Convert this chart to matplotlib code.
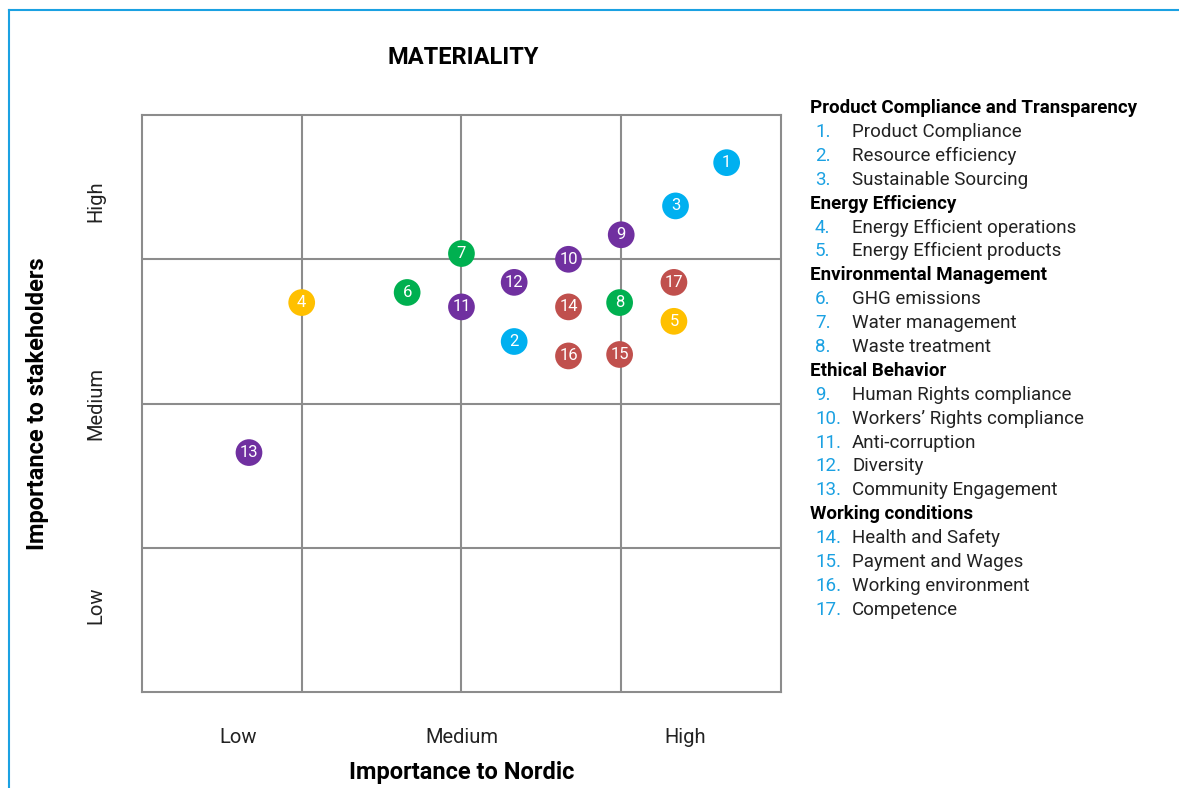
import matplotlib.pyplot as plt
from matplotlib.lines import Line2D

plt.rcParams['font.family'] = ['Roboto', 'DejaVu Sans']

# topic numbers, positions (importance to Nordic, importance to stakeholders), group
ids = list(range(1, 18))
nordic = [3.66, 2.33, 3.34, 1.00, 3.33, 1.66, 2.00, 2.99, 3.00,
          2.67, 2.00, 2.33, 0.67, 2.67, 2.99, 2.67, 3.33]
stakeholders = [3.67, 2.43, 3.37, 2.70, 2.57, 2.77, 3.04, 2.70, 3.17,
                3.00, 2.67, 2.84, 1.66, 2.67, 2.34, 2.33, 2.84]
groups = ["product", "product", "product", "energy", "energy",
          "env", "env", "env", "ethic", "ethic", "ethic", "ethic", "ethic",
          "work", "work", "work", "work"]

group_colors = {"product": "#00B0F0", "energy": "#FFC000", "env": "#00B050",
                "ethic": "#7030A0", "work": "#C0504D"}

level_labels = ["Low", "Medium", "High"]
level_pos = [0.6, 2.0, 3.4]

legend_sections = [
    ("Product Compliance and Transparency",
     ["Product Compliance", "Resource efficiency", "Sustainable Sourcing"]),
    ("Energy Efficiency",
     ["Energy Efficient operations", "Energy Efficient products"]),
    ("Environmental Management",
     ["GHG emissions", "Water management", "Waste treatment"]),
    ("Ethical Behavior",
     ["Human Rights compliance", "Workers\u2019 Rights compliance",
      "Anti-corruption", "Diversity", "Community Engagement"]),
    ("Working conditions",
     ["Health and Safety", "Payment and Wages", "Working environment",
      "Competence"]),
]

fig = plt.figure(figsize=(11.79, 7.88), dpi=100)
ax = fig.add_axes([0.1204, 0.1218, 0.542, 0.7322])

ax.set_xlim(0, 4)
ax.set_ylim(0, 4)
for v in [1, 2, 3]:
    ax.axvline(v, color="#8c8c8c", lw=1.5, zorder=1)
    ax.axhline(v, color="#8c8c8c", lw=1.5, zorder=1)
for s in ax.spines.values():
    s.set_color("#8c8c8c")
    s.set_linewidth(1.5)

cols = [group_colors[g] for g in groups]
ax.scatter(nordic, stakeholders, s=370, c=cols, edgecolors="none", zorder=3)
for i, x, y in zip(ids, nordic, stakeholders):
    ax.text(x, y, str(i), color="white", fontsize=12, ha="center",
            va="center", zorder=4)

ax.set_xticks(level_pos)
ax.set_xticklabels(level_labels, fontsize=14.5, color="#222222")
ax.set_yticks(level_pos)
ax.set_yticklabels(level_labels, fontsize=14.5, color="#222222",
                   rotation=90, va="center")
ax.tick_params(length=0)
ax.tick_params(axis="x", pad=26)
ax.tick_params(axis="y", pad=26)

ax.set_xlabel("Importance to Nordic", fontsize=17, fontweight="bold",
              labelpad=10)
ax.set_ylabel("Importance to stakeholders", fontsize=17, fontweight="bold",
              labelpad=27)

fig.text(463 / 1179, 1 - 57 / 788, "MATERIALITY", fontsize=17,
         fontweight="bold", ha="center", va="center")

# legend text on the right
y = 108
step = 23.9
n = 1
for head, items in legend_sections:
    fig.text(810 / 1179, 1 - y / 788, head, fontsize=13.5,
             fontweight="bold", va="center", ha="left")
    y += step
    for it in items:
        fig.text(815 / 1179, 1 - y / 788, f"{n}.", fontsize=13.5,
                 color="#1BA1E2", va="center", ha="left")
        fig.text(852 / 1179, 1 - y / 788, it, fontsize=13.5,
                 color="#222222", va="center", ha="left")
        y += step
        n += 1

# blue frame at top and left
fig.add_artist(Line2D([9.5 / 1179, 9.5 / 1179], [0, 1 - 10 / 788],
                      color="#1BA1E2", lw=1.5, transform=fig.transFigure))
fig.add_artist(Line2D([9.5 / 1179, 1], [1 - 10 / 788, 1 - 10 / 788],
                      color="#1BA1E2", lw=1.5, transform=fig.transFigure))

fig.savefig("out.png", dpi=100)
